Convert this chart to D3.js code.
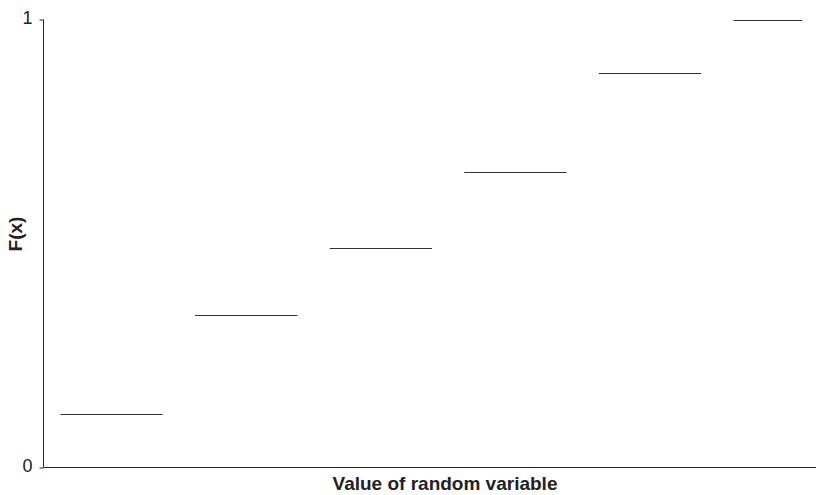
<!DOCTYPE html>
<html>
<head>
<meta charset="utf-8">
<script src="https://cdn.jsdelivr.net/npm/d3@7"></script>
<style>
  html, body { margin: 0; padding: 0; background: #fff; }
  svg { display: block; }
</style>
</head>
<body>
<svg id="chart" width="816" height="495"></svg>
<script>
// Data: step function F(x) of a discrete random variable
const stepStart = [1, 2, 3, 4, 5, 6];
const stepEnd   = [1.76, 2.76, 3.76, 4.76, 5.76, 6.51];
const cdfValues = [0.12, 0.34, 0.49, 0.66, 0.88, 1.0];
const yTicks = [0, 1];
const xTitle = "Value of random variable";
const yTitle = "F(x)";

const svg = d3.select("#chart");
const x = d3.scaleLinear().domain([1, 6]).range([60.5, 733.5]);
const y = d3.scaleLinear().domain([0, 1]).range([467.5, 19.5]);

const axisX0 = 43.5, axisRight = 816;
const font = "Liberation Sans, Arial, sans-serif";

// y axis
const yAxis = d3.axisLeft(y).tickValues(yTicks).tickFormat(d3.format("d")).tickSize(4).tickPadding(7);
const gy = svg.append("g").attr("transform", `translate(${axisX0},0)`).call(yAxis);
gy.select(".domain").remove();
gy.selectAll(".tick line").attr("stroke", "#222");
gy.selectAll(".tick text").attr("font-family", font).attr("font-size", 18).attr("fill", "#222").attr("dy", "0.23em");
svg.append("line").attr("x1", axisX0).attr("x2", axisX0).attr("y1", y(1)).attr("y2", y(0)).attr("stroke", "#222");

// x axis line
svg.append("line").attr("x1", axisX0).attr("x2", axisRight).attr("y1", y(0)).attr("y2", y(0)).attr("stroke", "#222");

// steps
svg.append("g").selectAll("line").data(cdfValues).join("line")
  .attr("x1", (d, i) => x(stepStart[i]))
  .attr("x2", (d, i) => x(stepEnd[i]))
  .attr("y1", d => Math.round(y(d)) + 0.5)
  .attr("y2", d => Math.round(y(d)) + 0.5)
  .attr("stroke", "#333").attr("stroke-width", 1);

// titles
svg.append("text").attr("x", 445).attr("y", 490).attr("text-anchor", "middle")
  .attr("font-family", font).attr("font-size", 19).attr("font-weight", "bold").attr("fill", "#222")
  .text(xTitle);
svg.append("text").attr("transform", "translate(22,234) rotate(-90)").attr("text-anchor", "middle")
  .attr("font-family", font).attr("font-size", 19).attr("font-weight", "bold").attr("fill", "#222")
  .text(yTitle);
</script>
</body>
</html>
